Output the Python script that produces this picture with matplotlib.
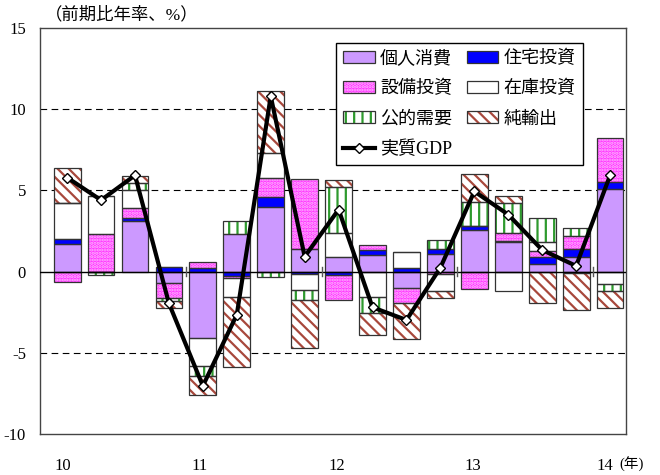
import numpy as np
import matplotlib
matplotlib.use("Agg")
import matplotlib.pyplot as plt
from matplotlib.patches import Patch

plt.rcParams['font.family'] = ['Liberation Serif', 'Noto Sans CJK JP', 'DejaVu Sans']
plt.rcParams['hatch.linewidth'] = 1.6

# ── contributions to real GDP growth (q/q annualised, % pt), 2010Q1–2014Q1
quarters = ['10Q1', '10Q2', '10Q3', '10Q4', '11Q1', '11Q2', '11Q3', '11Q4',
            '12Q1', '12Q2', '12Q3', '12Q4', '13Q1', '13Q2', '13Q3', '13Q4', '14Q1']
consumption = [1.68, 0.00, 3.13, -0.73, -4.08, 2.33, 3.96, 1.41, 0.92, 1.00,
               -1.04, 1.06, 2.59, 1.82, 0.49, 0.92, 5.10]
housing     = [0.30, 0.00, 0.14, 0.30, 0.20, -0.27, 0.61, -0.16, -0.18, 0.31,
               0.24, 0.35, 0.20, 0.08, 0.43, 0.49, 0.41]
capex       = [-0.61, 2.29, 0.66, -0.92, 0.37, -0.14, 1.18, 4.29, -1.59, 0.31,
               -0.92, -0.16, -1.08, 0.47, 0.35, 0.78, 2.69]
inventory   = [2.25, 2.37, 1.08, 0.00, -1.76, -1.14, 1.53, -1.00, 1.47, -1.55,
               0.98, -1.02, 0.00, -1.18, 0.57, -0.10, -0.76]
public      = [0.00, -0.20, 0.47, -0.19, -0.61, 0.78, -0.31, -0.59, 2.80, -1.02,
               0.00, 0.51, 1.49, 1.84, 1.47, 0.47, -0.43]
net_exports = [2.17, 0.00, 0.41, -0.43, -1.12, -4.33, 3.82, -2.98, 0.43, -1.31,
               -2.18, -0.47, 1.73, 0.47, -1.96, -2.27, -1.06]
real_gdp    = [5.79, 4.40, 5.93, -1.96, -7.04, -2.65, 10.80, 0.92, 3.82, -2.20,
               -2.98, 0.24, 4.94, 3.51, 1.33, 0.35, 5.92]

year_labels = ['10', '11', '12', '13', '14']

# name, values, face, hatch, hatch colour
series = [
    ('個人消費', consumption, '#CC99FF', None, None),
    ('住宅投資', housing, '#0000FF', None, None),
    ('設備投資', capex, '#FF33FF', '.....', '#FFB8FF'),
    ('在庫投資', inventory, 'white', None, None),
    ('公的需要', public, 'white', '||', '#2E9A2E'),
    ('純輸出', net_exports, 'white', '\\\\\\', '#A8483C'),
]
outline = '#333333'

fig = plt.figure(figsize=(6.6, 4.75), dpi=100)
ax = fig.add_axes([40 / 660, 1 - 434 / 475, 586 / 660, 406 / 475])

x = np.arange(len(quarters))
width = 0.79
pos_base = np.zeros(len(x))
neg_base = np.zeros(len(x))
handles = {}
for name, vals, face, hatch, hcol in series:
    v = np.array(vals)
    bottom = np.where(v >= 0, pos_base, neg_base)
    # fill (with pattern) first, then the dark outline on top
    if hatch:
        ax.bar(x, v, width, bottom=bottom, color=face, hatch=hatch,
               edgecolor=hcol, linewidth=0, zorder=2)
    else:
        ax.bar(x, v, width, bottom=bottom, color=face, linewidth=0, zorder=2)
    ax.bar(x, v, width, bottom=bottom, color='none', edgecolor=outline,
           linewidth=0.9, zorder=3)
    pos_base += np.where(v >= 0, v, 0)
    neg_base += np.where(v < 0, v, 0)
    fill = Patch(facecolor=face, hatch=hatch, edgecolor=hcol if hatch else face, linewidth=0)
    edge = Patch(facecolor='none', edgecolor=outline, linewidth=0.9)
    handles[name] = (fill, edge)

gdp_line, = ax.plot(x, real_gdp, color='black', lw=3, marker='D', ms=5.5,
                    mfc='white', mec='black', mew=1, zorder=5)

# reference lines
ax.axhline(0, color='black', lw=1, zorder=4)
for yv in (10, 5, -5):
    ax.axhline(yv, color='black', lw=0.8, ls=(0, (6, 4)), zorder=1)
for xb in (3.5, 7.5, 11.5, 15.5):
    ax.plot([xb, xb], [-0.3, 0.3], color='#555555', lw=1, zorder=4)

ax.set_xlim(-0.80, 16.47)
ax.set_ylim(-10, 15)
ax.set_yticks([-10, -5, 0, 5, 10, 15])
ax.set_yticklabels(['-10', '-5', '0', '5', '10', '15'], fontsize=12)
ax.set_xticks([-0.12, 3.9, 7.95, 11.95, 15.85])
ax.set_xticklabels(year_labels, fontsize=12)
ax.tick_params(axis='y', length=0, pad=10)
ax.tick_params(axis='x', length=0, pad=17)
for sp in ax.spines.values():
    sp.set_color('#444444')
    sp.set_linewidth(1)

fig.text(45 / 660, 1 - 15 / 475, '（前期比年率、%）', fontsize=12.5,
         ha='left', va='center')
fig.text(619 / 660, 1 - 464 / 475, '(年)', fontsize=10.5, ha='left', va='center')

order = ['個人消費', '設備投資', '公的需要', None, '住宅投資', '在庫投資', '純輸出']
leg_handles, leg_labels = [], []
for name in order:
    if name is None:
        leg_handles.append(gdp_line)
        leg_labels.append('実質GDP')
    else:
        leg_handles.append(handles[name])
        leg_labels.append(name)
leg = ax.legend(leg_handles, leg_labels, ncol=2, loc='upper left',
                bbox_to_anchor=(0.505, 0.963), borderaxespad=0,
                fontsize=13, frameon=True, fancybox=False, framealpha=1,
                edgecolor='black', handlelength=1.75, handleheight=0.65,
                handletextpad=0.3, columnspacing=0.8, labelspacing=0.72,
                numpoints=1, borderpad=0.4)
leg.get_frame().set_linewidth(1)
leg.set_zorder(6)

fig.savefig('out.png', dpi=100)
